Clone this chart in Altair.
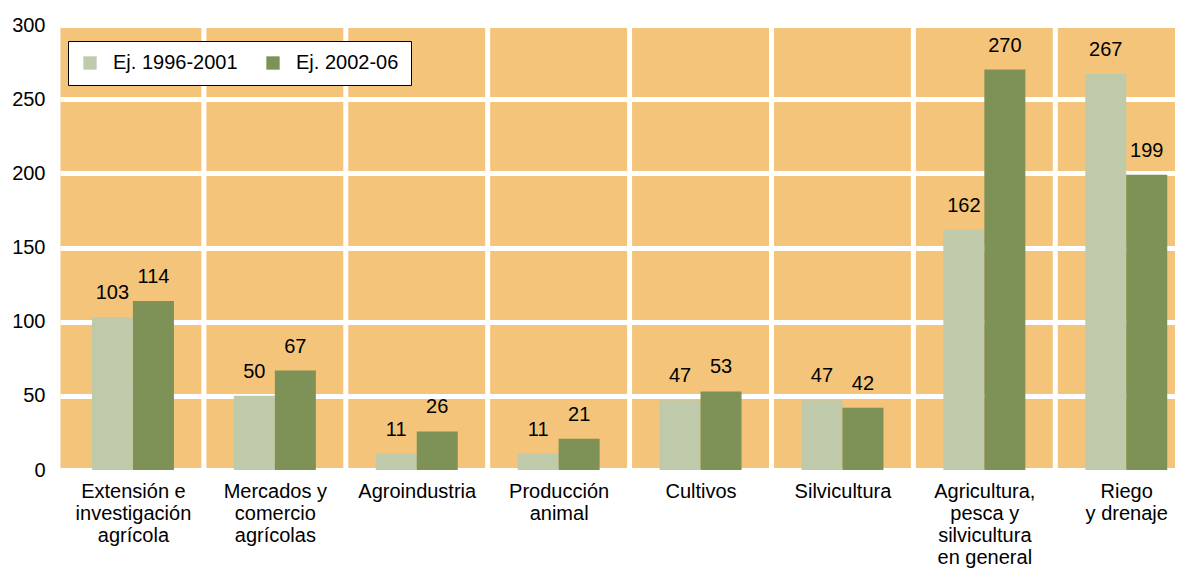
import json
import altair as alt
import pandas as pd

categories = [
    "Extensión e|investigación|agrícola",
    "Mercados y|comercio|agrícolas",
    "Agroindustria",
    "Producción|animal",
    "Cultivos",
    "Silvicultura",
    "Agricultura,|pesca y|silvicultura|en general",
    "Riego|y drenaje",
]
series_names = ["Ej. 1996-2001", "Ej. 2002-06"]
values_1996_2001 = [103, 50, 11, 11, 47, 47, 162, 267]
values_2002_06 = [114, 67, 26, 21, 53, 42, 270, 199]
y_ticks = [0, 50, 100, 150, 200, 250, 300]

rows = []
for i, (c, v1, v2) in enumerate(zip(categories, values_1996_2001, values_2002_06)):
    rows.append({"idx": i, "cat": c, "series": series_names[0], "s": 0, "value": v1})
    rows.append({"idx": i, "cat": c, "series": series_names[1], "s": 1, "value": v2})
df = pd.DataFrame(rows)
grid_df = pd.DataFrame({"idx": list(range(1, len(categories)))})

FONT = "Liberation Sans"
ORANGE = "#F3C47A"
LIGHT = "#BFCAAB"
DARK = "#7E9156"

PLOT_W = 1115
UNIT = 141.9          # pixels per category in the source
BW = 0.289            # bar width in category units
X0 = -0.514
X_DOMAIN = [X0, X0 + PLOT_W / UNIT]  # last category runs past the right edge, as in the source

label_array = json.dumps(categories, ensure_ascii=False)
x_scale = alt.Scale(domain=X_DOMAIN, nice=False, zero=False)
x_axis = alt.Axis(
    title=None, labelAngle=0, domain=False, ticks=False, grid=False,
    values=list(range(len(categories))),
    labelFontSize=20, labelLineHeight=22, labelPadding=11, labelLimit=300,
    labelFlush=False, labelOverlap=False, labelBound=False,
    labelExpr=f"split({label_array}[datum.value], '|')",
    labelColor="black", labelFont=FONT,
)
y_scale = alt.Scale(domain=[0, 300], nice=False, zero=True)
y_axis = alt.Axis(
    values=y_ticks, grid=True, gridColor="white", gridWidth=5, gridOpacity=1,
    domain=False, ticks=False, labelFontSize=20, labelPadding=15,
    title=None, labelColor="black", labelFont=FONT,
)
color = alt.Color(
    "series:N",
    scale=alt.Scale(domain=series_names, range=[LIGHT, DARK]),
    legend=alt.Legend(
        title=None, orient="none", legendX=8, legendY=16, direction="horizontal",
        symbolType="square", symbolSize=178, symbolStrokeWidth=0,
        labelFontSize=20, labelFont=FONT, labelColor="black", labelOffset=13,
        columnPadding=25, padding=12, strokeColor="black", fillColor="white",
    ),
)

vgrid = alt.Chart(grid_df).transform_calculate(
    gx="datum.idx - 0.5"
).mark_rule(color="white", strokeWidth=5).encode(
    x=alt.X("gx:Q", scale=x_scale, axis=x_axis),
)

base = alt.Chart(df).transform_calculate(
    x0=f"datum.idx + (datum.s == 0 ? -{BW} : 0)",
    x1=f"datum.idx + (datum.s == 0 ? 0 : {BW})",
    xm=f"datum.idx + (datum.s == 0 ? -{BW / 2} : {BW / 2})",
)

bars = base.mark_bar().encode(
    x=alt.X("x0:Q", scale=x_scale, axis=x_axis),
    x2="x1:Q",
    y=alt.Y("value:Q", scale=y_scale, axis=y_axis),
    y2=alt.datum(0),
    color=color,
)

labels = base.mark_text(
    fontSize=20, font=FONT, color="black", baseline="alphabetic", dy=-18
).encode(
    x=alt.X("xm:Q", scale=x_scale, axis=x_axis),
    y=alt.Y("value:Q", scale=y_scale, axis=y_axis),
    text=alt.Text("value:Q"),
)

chart = alt.layer(vgrid, bars, labels).properties(
    width=PLOT_W,
    height=445,
    padding={"left": 52, "top": 17, "right": 0, "bottom": 100},
    autosize=alt.AutoSizeParams(type="none"),
).configure(
    font=FONT,
    view=alt.ViewConfig(fill=ORANGE, stroke="transparent"),
)

chart.save("out.html", embed_options={"renderer": "svg", "actions": False})
